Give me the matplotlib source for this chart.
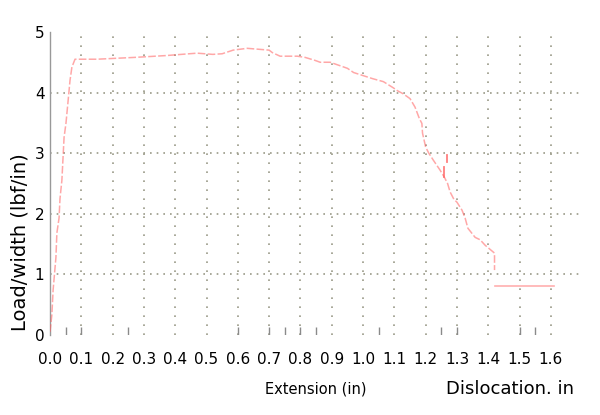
import matplotlib
matplotlib.use("Agg")
import matplotlib.pyplot as plt

# Main load curve (extension in, load/width lbf/in)
ext = [0.0, 0.006, 0.01, 0.019, 0.022, 0.029, 0.032, 0.038, 0.045, 0.051, 0.058, 0.064,
       0.07, 0.08, 0.15, 0.27, 0.37, 0.47, 0.52, 0.55, 0.585, 0.63, 0.70, 0.71, 0.735,
       0.79, 0.815, 0.847, 0.863, 0.895, 0.917, 0.95, 0.97, 1.0, 1.03, 1.065, 1.096,
       1.11, 1.128, 1.15, 1.166, 1.18, 1.188, 1.19, 1.2, 1.21, 1.225, 1.246, 1.26, 1.27,
       1.278, 1.29, 1.30, 1.316, 1.326, 1.335, 1.358, 1.374, 1.39, 1.42, 1.42, 1.42]
load = [0.05, 0.33, 0.74, 1.28, 1.68, 1.93, 2.25, 2.55, 3.26, 3.49, 3.87, 4.2,
        4.42, 4.55, 4.55, 4.58, 4.61, 4.65, 4.63, 4.64, 4.70, 4.73, 4.70, 4.66, 4.60,
        4.60, 4.58, 4.53, 4.50, 4.50, 4.46, 4.40, 4.33, 4.28, 4.23, 4.18, 4.08,
        4.03, 3.98, 3.90, 3.76, 3.57, 3.49, 3.33, 3.10, 3.00, 2.88, 2.72, 2.60, 2.50,
        2.36, 2.24, 2.19, 2.06, 1.93, 1.76, 1.61, 1.57, 1.48, 1.35, 1.15, 1.07]

# Small vertical spikes
spike_x = [1.267, 1.258]
spike_top = [2.97, 2.77]
spike_bot = [2.85, 2.60]

# Final plateau
plateau_x = [1.42, 1.61]
plateau_y = [0.81, 0.81]

xticks = [round(0.1 * i, 1) for i in range(17)]
xlabels = [f"{v:.1f}" for v in xticks]
yticks = [0, 1, 2, 3, 4, 5]
hgrid = [1, 2, 3, 4]
vgrid = [round(0.1 * i, 1) for i in range(1, 17)]
minor_marks = [0.05, 0.1, 0.25, 0.6, 0.7, 0.75, 0.8, 0.85, 1.05, 1.25, 1.3, 1.5, 1.55]

fig = plt.figure(figsize=(6.0, 4.15), dpi=100)
ax = fig.add_axes([0.0833, 0.193, 0.887, 0.730])
ax.set_xlim(0, 1.7)
ax.set_ylim(0, 5)

grid_col = "#9a9a88"
for g in hgrid:
    ax.axhline(g, color=grid_col, lw=1.2, linestyle=(0, (1, 3)), zorder=1)
for g in vgrid:
    ax.axvline(g, color=grid_col, lw=1.2, linestyle=(0, (1, 4.4)), zorder=1)

# bottom tick marks
ax.vlines(minor_marks, 0, 0.025, transform=ax.get_xaxis_transform(),
          color="#8a8a8a", lw=1.0, zorder=2)

red = "#ff6060"
ax.plot(ext, load, color=red, lw=1.1, alpha=0.55, linestyle=(0, (5, 1.5)), zorder=3)
for sx, st, sb in zip(spike_x, spike_top, spike_bot):
    ax.plot([sx, sx], [st, sb], color=red, lw=1.3, alpha=0.8, zorder=3)
ax.plot(plateau_x, plateau_y, color=red, lw=1.2, alpha=0.5, zorder=3)

for s in ["top", "right", "bottom"]:
    ax.spines[s].set_visible(False)
ax.spines["left"].set_color("#999999")
ax.spines["left"].set_linewidth(1.0)

ax.set_xticks(xticks)
ax.set_xticklabels(xlabels)
ax.set_yticks(yticks)
ax.tick_params(axis="x", which="major", length=0, pad=12, labelsize=11)
ax.tick_params(axis="y", length=0, pad=4, labelsize=11)

fig.text(20 / 600, 1 - 242 / 415, "Load/width (lbf/in)", fontsize=14, rotation=90,
         ha="center", va="center")
fig.text(316 / 600, 1 - 389 / 415, "Extension (in)", fontsize=10.5,
         ha="center", va="center")
fig.text(510 / 600, 1 - 389 / 415, "Dislocation. in", fontsize=13, ha="center", va="center")

fig.savefig("out.png", dpi=100)
